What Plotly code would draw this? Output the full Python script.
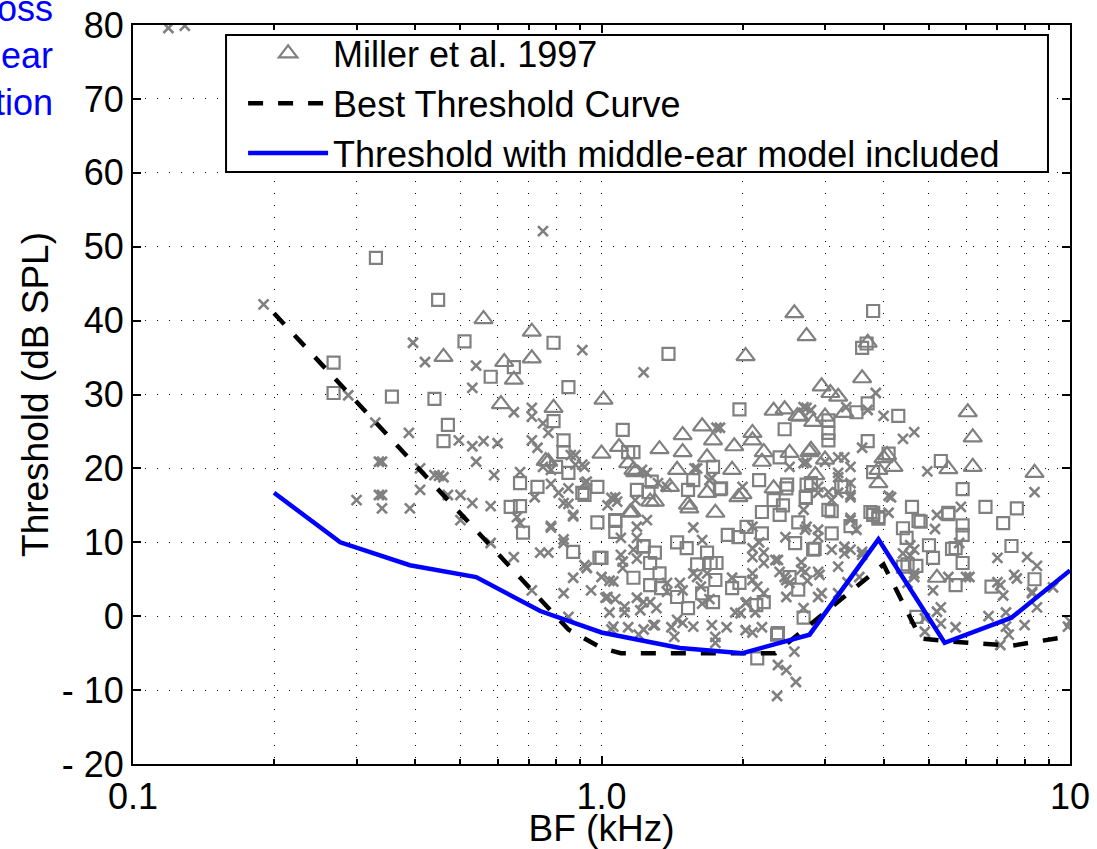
import plotly.graph_objects as go

# ---------------- data ----------------
tri_bf = [0.56, 0.71, 0.46, 0.62, 0.71, 0.65, 0.61, 0.79, 1.01, 1.09, 1.00, 1.33, 0.76, 1.18, 1.14,
          2.58, 2.74, 2.03, 3.70, 3.60, 2.95, 3.08, 3.20, 2.33, 2.46, 2.62, 6.05, 6.20, 6.20, 8.40,
          5.50, 1.64, 1.49, 1.49, 1.73, 1.92, 2.10, 2.10, 1.68, 1.90, 1.45, 2.22, 2.52, 2.80, 2.83,
          3.00, 3.30, 4.00, 4.20, 3.90, 2.86, 1.68, 2.33, 4.07, 2.78, 5.20, 2.65, 1.96, 1.53, 1.27,
          1.16, 1.75, 1.17, 1.40, 0.77, 1.54, 2.00, 3.90, 1.15, 1.30, 2.20, 3.00]
tri_db = [40.2, 38.5, 35.1, 34.4, 34.9, 32.0, 28.7, 28.2, 29.3, 22.9, 22.0, 22.6, 21.0, 19.5, 20.7,
          41.0, 37.9, 35.2, 37.0, 32.2, 31.1, 30.2, 29.7, 27.8, 28.0, 27.1, 27.6, 24.2, 20.2, 19.4,
          19.9, 25.7, 24.5, 22.2, 23.8, 23.0, 24.8, 23.8, 21.5, 19.8, 19.8, 22.2, 22.1, 22.5, 26.3,
          27.0, 27.5, 21.4, 20.2, 18.0, 19.1, 16.7, 17.3, 21.8, 22.2, 5.2, 27.0, 16.1, 15.1, 15.5,
          14.1, 14.0, 19.8, 17.5, 20.9, 14.6, 16.5, 19.8, 14.0, 15.5, 20.9, 21.2]

sq_bf = [0.268, 0.268, 0.33, 0.357, 0.448, 0.51, 0.79, 1.39, 0.65, 0.58, 0.85, 0.44, 0.47, 0.46,
         0.79, 0.83, 0.83, 1.11, 1.14, 1.17, 0.80, 0.85, 0.67, 0.73, 0.91, 0.98, 1.19, 1.28,
         3.8, 3.6, 3.68, 1.97, 2.46, 3.5, 3.7, 4.3, 3.7, 4.1, 5.3, 5.9, 1.73, 1.57, 1.79, 2.17,
         2.4, 3.05, 3.05, 3.05, 2.74, 3.3, 3.8, 2.49,
         6.6, 7.7, 7.2, 7.5, 8.4, 5.5, 5.9, 5.9, 5.9, 5.7, 4.6, 4.75, 4.4, 4.48, 5.0, 5.1, 4.5,
         4.7, 5.7, 6.8, 3.8, 3.9, 3.4, 3.1, 2.73, 2.8, 2.85, 3.1,
         4.8, 5.5, 5.6, 4.7, 4.4, 3.8,
         1.8, 1.53, 1.26, 1.07, 1.07, 1.0, 1.23, 1.3, 1.27, 1.33, 1.45, 1.52, 1.6, 1.68, 1.71,
         1.76, 1.17, 1.27, 1.34, 1.45, 1.53, 1.64, 1.73, 1.75, 1.9, 1.97, 1.86, 1.96, 2.04, 2.2,
         2.2, 2.4, 2.33, 2.48, 2.59, 2.63, 2.73, 2.83, 2.52, 2.63, 2.7, 2.37, 2.15, 2.14, 2.22,
         0.64, 0.67, 0.68, 0.98, 0.87, 0.99, 0.92, 1.07, 1.23, 2.38, 3.9, 3.75, 3.25, 3.05, 2.44]
sq_db = [34.3, 30.2, 48.5, 29.7, 42.8, 37.2, 37.0, 35.5, 33.7, 32.4, 31.0, 29.4, 25.9, 23.7,
         26.4, 23.8, 22.2, 25.2, 22.2, 22.2, 20.2, 19.4, 18.0, 17.5, 16.7, 17.5, 17.1, 18.2,
         41.3, 36.3, 36.9, 28.0, 25.3, 27.6, 28.8, 27.1, 23.7, 22.0, 21.0, 17.2, 20.2, 18.4, 17.2, 18.4,
         21.5, 26.5, 24.8, 23.8, 17.8, 17.5, 19.5, 17.8,
         14.8, 14.6, 12.6, 9.5, 5.0, 13.8, 12.3, 11.0, 7.2, 9.2, 14.8, 12.9, 11.9, 10.6, 9.6, 7.9, 7.0,
         6.8, 4.2, 4.0, 13.7, 13.2, 12.2, 14.2, 16.0, 18.0, 9.1, 11.2,
         12.8, 14.0, 9.1, -0.1, 6.7, 14.0,
         17.3, 17.1, 16.8, 13.0, 11.4, 7.9, 9.4, 8.6, 7.2, 5.8, 10.0, 9.2, 7.0, 8.6, 7.2,
         7.2, 5.2, 4.2, 3.8, 2.6, 1.1, 3.1, 1.9, 4.9, 3.8, 4.5, 11.0, 10.7, 12.1, 14.1,
         11.2, 13.7, 15.7, 17.3, 9.9, 12.7, 16.1, 9.0, 5.3, 3.6, -0.2, -2.5, -5.7, 1.5, 1.9,
         14.8, 14.9, 11.3, 12.7, 8.7, 7.9, 16.4, 12.9, 9.5, -2.3, 13.4, 14.1, 17.5, 14.4, 15.0]

x_bf = [0.119, 0.129, 0.19, 0.288, 0.329, 0.335, 0.335, 0.30, 0.75, 0.396, 0.42, 0.54, 0.53, 0.91,
        1.23, 0.65, 0.71, 0.71, 0.75, 0.77, 0.388, 0.496, 0.53, 0.56, 0.60, 0.54, 0.59, 0.71, 0.73,
        0.88, 0.92, 0.92, 0.41, 0.45, 0.41, 0.47, 0.50, 0.78, 0.81, 1.07,
        0.91, 0.93, 0.85, 0.78, 0.72, 0.67, 0.44, 0.46, 0.39, 0.53, 0.50, 0.58, 0.66, 0.67, 0.78,
        0.83, 0.87, 1.03, 0.65, 0.58, 0.74, 0.77, 0.83, 0.87, 0.83, 0.93, 0.95, 1.02, 0.71, 0.85,
        0.34, 0.34, 0.34,
        1.76, 1.6, 1.72, 2.0, 2.8, 1.05, 1.19, 1.1, 1.11, 1.17, 1.06, 1.03, 1.07, 1.12, 1.04, 1.14,
        1.06, 1.23, 1.29, 1.19, 1.38, 1.47, 1.45, 1.41, 1.43, 1.31, 1.57, 1.72, 1.75, 1.75, 1.85,
        1.93, 2.04, 2.1, 2.1, 2.1, 2.17, 2.22, 2.38, 2.4, 2.48, 2.72, 2.67, 2.75, 2.22, 2.13, 2.2,
        2.1, 2.38, 2.48, 2.6, 2.37, 2.58, 2.1, 2.9, 2.95, 2.9, 2.72, 2.47, 1.57, 1.64, 1.68, 1.32,
        1.38, 1.25, 1.22,
        3.85, 2.74, 3.7, 4.0, 4.4, 4.65, 3.6, 1.79, 1.58, 1.7, 2.52, 2.7, 3.2, 3.4, 3.2, 3.4, 2.9,
        4.96, 4.1, 8.4,
        4.1, 5.85, 5.2, 5.15, 5.8, 7.0, 8.1, 8.5, 7.6, 7.7, 7.1, 8.3, 7.2, 6.1, 5.5, 5.1, 4.5,
        4.65, 4.4, 4.56, 2.92, 3.2, 3.6, 3.5, 3.4, 3.3, 2.9, 2.74, 2.7, 2.9, 3.05, 3.1, 3.4, 3.2,
        3.3, 3.0, 2.74, 2.7, 3.33,
        3.4, 3.3, 3.6, 4.56, 4.65, 4.65, 6.0, 5.2, 5.3, 5.3, 4.9, 5.7, 4.9, 6.7, 7.3, 7.3, 7.4,
        7.1, 8.0, 7.0, 8.3, 8.5, 9.2, 10.0, 9.9,
        0.92, 1.04, 1.05, 1.12, 1.2, 1.3, 1.49, 2.03, 1.98,
        0.75, 0.88, 0.86, 0.85, 0.87, 0.78, 0.83, 0.93, 1.0, 1.08, 1.18, 1.25, 1.19, 1.1, 1.11,
        1.19, 1.23, 1.27, 1.21, 1.38, 1.49, 1.6, 1.63, 1.64, 1.57, 1.7, 1.9, 2.03, 2.1, 2.15,
        2.22, 2.35, 2.46, 2.48, 2.52, 2.67, 2.7, 2.9, 3.2, 3.35, 3.1, 3.4, 3.55, 3.2, 3.4, 4.15]
x_db = [79.6, 79.9, 42.2, 29.9, 26.2, 20.9, 16.4, 15.7, 52.1, 37.0, 34.4, 33.9, 30.9, 36.0,
        33.0, 27.6, 28.2, 27.0, 26.1, 24.8, 24.8, 23.8, 23.0, 23.7, 23.4, 20.9, 19.1, 23.8, 22.8,
        21.8, 20.2, 18.0, 20.0, 19.0, 17.1, 16.4, 16.4, 19.8, 16.7, 16.1,
        20.5, 18.2, 17.3, 17.9, 16.1, 19.5, 19.1, 18.8, 14.6, 15.3, 13.0, 14.9, 13.4, 12.6, 12.2,
        15.3, 13.7, 15.0, 8.0, 9.9, 8.6, 8.6, 9.9, 5.2, 3.1, 6.5, 3.5, 2.5, 3.5, -0.1,
        20.9, 16.4, 14.6,
        25.5, 20.0, 18.7, 17.5, 27.9, 16.0, 12.1, 10.6, 7.4, 9.0, 4.7, 2.6, 2.3, 1.3, 0.5, -1.5,
        -1.4, -1.8, -1.2, 2.5, 3.3, 4.5, -0.5, -1.5, -2.8, 1.1, 5.8, -1.2, -2.8, -3.6, -1.5,
        0.5, 1.9, 4.9, 9.2, 8.0, 10.0, 8.6, 7.6, 6.0, 4.9, 6.0, 7.3, 4.8, 3.1, 0.5, -1.5,
        -2.2, -6.6, -7.3, -8.9, -10.8, -4.8, 12.1, 6.0, 3.1, 11.7, 11.7, 10.7, 12.0, 10.3, 5.8, 18.0,
        17.5, 19.4, 19.8,
        30.2, 28.2, 27.9, 27.1, 24.0, 24.9, 22.8, 25.5, 20.0, 18.4, 20.2, 20.7, 21.5, 20.2, 18.8, 16.4, 17.5,
        19.6, 16.3, 16.8,
        14.0, 14.8, 13.7, 11.8, 9.9, 7.9, 8.0, 6.8, 5.6, 5.1, 4.2, 3.1, 2.8, 5.3, 5.3, 3.5, 4.5,
        5.8, 8.5, 9.6, 5.6, 6.7, 8.3, 11.7, 13.0, 9.4, 10.7, 12.1, 14.4, 16.7, 16.8, 15.7, 16.1, 19.4,
        21.5, 20.9, 20.8, 28.3, 28.3,
        13.3, 8.5, 8.7, 8.2, 5.3, 9.0, 5.3, 0.6, 1.2, -1.0, -0.3, -1.5, -2.1, 0.0, 0.5, -1.4, -2.5,
        -3.9, -1.2, 4.6, 3.3, 1.2, 3.9, -0.7, -1.4,
        6.9, 4.8, -1.8, 0.5, -2.5, -1.2, -0.9, -1.9, 0.4,
        20.2, 20.5, 21.8, 15.2, 13.5, 12.0, 10.4, 6.6, 5.3, 15.5, 15.7, 13.0, 10.6, 8.3, 6.5,
        7.8, 1.9, 1.9, 0.8, 4.5, 3.5, 5.3, 4.0, 1.7, -1.4, 2.3, 5.2, 1.8, 5.8, 4.0,
        7.2, 7.6, 5.3, 2.6, 4.5, 6.3, 1.1, 2.6, 3.1, 4.6, 9.0, 9.0, 5.3, 16.7, 18.0, 16.1]

best_bf = [0.2, 0.75, 0.85, 1.0, 1.1, 2.35, 4.0, 4.8, 5.5, 7.5, 10]
best_db = [41.0, 2.0, -1.8, -4.3, -5.0, -5.0, 7.0, -3.0, -3.4, -4.0, -2.7]

me_bf = [0.2, 0.277, 0.39, 0.54, 0.74, 1.0, 1.47, 2.0, 2.78, 3.9, 5.4, 7.5, 10]
me_db = [16.7, 10.0, 6.9, 5.3, 0.7, -2.2, -4.3, -5.0, -2.5, 10.4, -3.6, -0.2, 6.2]

x_tickvals = [0.1, 1, 10]
x_ticktext = ["0.1", "1.0", "10"]
x_minor = [0.2, 0.3, 0.4, 0.5, 0.6, 0.7, 0.8, 0.9, 2, 3, 4, 5, 6, 7, 8, 9]
y_tickvals = [-20, -10, 0, 10, 20, 30, 40, 50, 60, 70, 80]
y_ticktext = ["- 20", "- 10", "0", "10", "20", "30", "40", "50", "60", "70", "80"]

# ---------------- figure ----------------
FONT = "Liberation Sans, Arial, sans-serif"
FS_TICK = 36
FS_TITLE = 37
FS_LEG = 36
GRAY = "#808080"

fig = go.Figure()
fig.add_trace(go.Scatter(x=tri_bf, y=tri_db, mode="markers", name="Miller et al. 1997",
                         marker=dict(symbol="triangle-up-open", size=16, color=GRAY,
                                     line=dict(width=2.2, color=GRAY))))
fig.add_trace(go.Scatter(x=sq_bf, y=sq_db, mode="markers", showlegend=False,
                         marker=dict(symbol="square-open", size=12, color=GRAY,
                                     line=dict(width=2.2, color=GRAY))))
fig.add_trace(go.Scatter(x=x_bf, y=x_db, mode="markers", showlegend=False,
                         marker=dict(symbol="x-thin-open", size=10, color=GRAY,
                                     line=dict(width=2.6, color=GRAY))))
fig.add_trace(go.Scatter(x=best_bf, y=best_db, mode="lines", name="Best Threshold Curve",
                         line=dict(color="black", width=4.5, dash="15px,15px")))
fig.add_trace(go.Scatter(x=me_bf, y=me_db, mode="lines",
                         name="Threshold with middle-ear model included",
                         line=dict(color="#0000ff", width=4.5)))

grid_dash = "1px,11px"
fig.update_xaxes(type="log", range=[-1, 1], tickvals=x_tickvals, ticktext=x_ticktext,
                 ticks="inside", ticklen=8, tickwidth=1.5, tickcolor="black",
                 showline=True, linewidth=2, linecolor="black", mirror="ticks",
                 showgrid=True, gridcolor="black", gridwidth=1, griddash=grid_dash,
                 minor=dict(tickvals=x_minor, ticks="inside", ticklen=5, tickcolor="black",
                            showgrid=True, gridcolor="black", gridwidth=1, griddash=grid_dash),
                 tickfont=dict(family=FONT, size=FS_TICK, color="black"),
                 title=dict(text="BF (kHz)", font=dict(family=FONT, size=FS_TITLE, color="black"),
                            standoff=3),
                 zeroline=False, automargin=False)
fig.update_yaxes(range=[-20, 80], tickvals=y_tickvals, ticktext=y_ticktext,
                 ticks="inside", ticklen=8, tickwidth=1.5, tickcolor="black",
                 showline=True, linewidth=2, linecolor="black", mirror="ticks",
                 showgrid=True, gridcolor="black", gridwidth=1, griddash=grid_dash,
                 tickfont=dict(family=FONT, size=FS_TICK, color="black"),
                 title=dict(text="Threshold (dB SPL)", font=dict(family=FONT, size=FS_TITLE, color="black"),
                            standoff=2),
                 zeroline=False, automargin=False)

# legend box
fig.add_shape(type="rect", xref="paper", yref="paper", x0=0.0993, x1=0.9765, y0=0.8011, y1=0.9865,
              line=dict(color="black", width=2), fillcolor="white", layer="above")

fig.add_annotation(xref="paper", yref="paper", x=-0.0832, y=0.9594, xanchor="right", yanchor="middle",
                   align="right", showarrow=False,
                   text="Gain loss<br>in cochlear<br>amplification",
                   font=dict(family=FONT, size=FS_LEG, color="#0000ff"))

fig.update_layout(
    width=1097, height=849,
    margin=dict(l=133, r=27, t=25, b=85),
    paper_bgcolor="white", plot_bgcolor="white",
    font=dict(family=FONT, size=FS_LEG, color="black"),
    legend=dict(x=0.1175, y=1.002, xanchor="left", yanchor="top",
                bgcolor="rgba(0,0,0,0)", borderwidth=0, itemwidth=80,
                font=dict(family=FONT, size=FS_LEG, color="black"), tracegroupgap=0),
)

fig.write_html("out.html")
